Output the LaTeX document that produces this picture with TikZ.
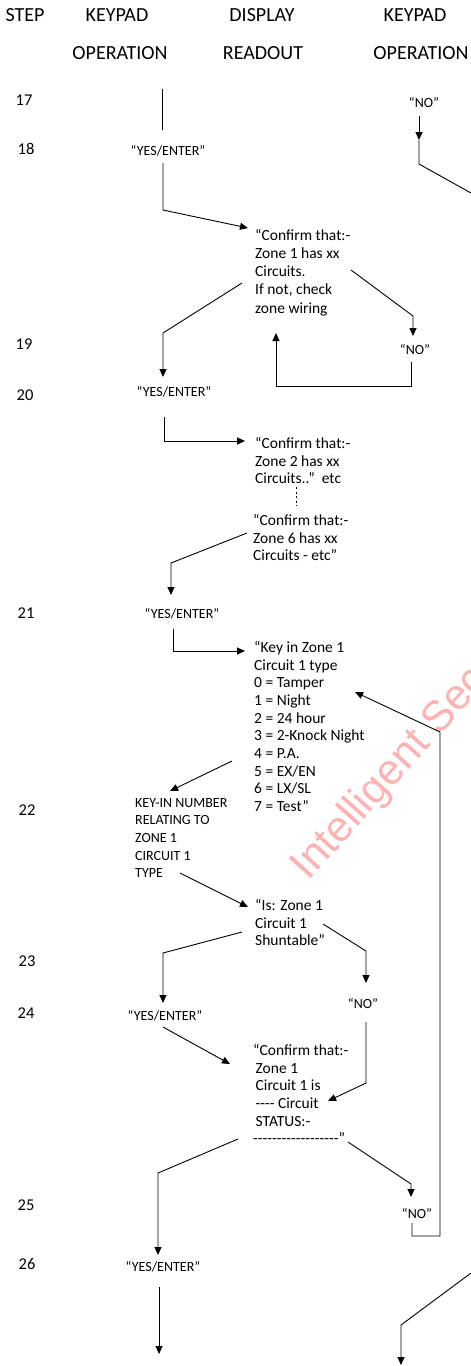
\documentclass[tikz,border=0pt]{standalone}
\usepackage{fontspec}
\setmainfont{Carlito}
\newfontfamily\wmfont{Liberation Sans}
\usetikzlibrary{arrows.meta}
\newcommand{\hy}{-\kern0pt}
\begin{document}
\begin{tikzpicture}[x=1pt,y=-1pt,
  hdr/.style={font=\fontsize{20}{24}\selectfont, inner sep=0pt},
  stepnum/.style={font=\fontsize{16.5}{19}\selectfont, inner sep=0pt},
  lbl/.style={font=\fontsize{14}{17.7}\selectfont, inner sep=0pt},
  capbox/.style={font=\fontsize{14}{17.7}\selectfont, inner sep=0pt, align=left, anchor=north west},
  txt/.style={font=\fontsize{15.5}{17.7}\selectfont, inner sep=0pt, align=left, anchor=north west},
  ln/.style={line width=0.9pt},
  arr/.style={ln, -{Triangle[length=8pt,width=7pt]}},
  wm/.style={font=\wmfont\fontsize{43}{45}\selectfont, text=red!30, inner sep=0pt}]
\useasboundingbox (0,0) rectangle (471,1366);
\clip (0,0) rectangle (471,1366);

% watermark
\node[wm, rotate=48, anchor=base west] (wm) at (308,882) {Intelligent Security};

% headers
\node[hdr] (hstep) at (25,15) {STEP};
\node[hdr] (hkp1) at (117,15) {KEYPAD};
\node[hdr] (hdisp) at (262,15) {DISPLAY};
\node[hdr] (hkp2) at (415,15) {KEYPAD};
\node[hdr] (hop1) at (120,53) {OPERATION};
\node[hdr] (hread) at (263,53) {READOUT};
\node[hdr] (hop2) at (421,53) {OPERATION};

% step numbers
\node[stepnum] (s17) at (24,100) {17};
\node[stepnum] (s18) at (26,149) {18};
\node[stepnum] (s19) at (24,344) {19};
\node[stepnum] (s20) at (25,395) {20};
\node[stepnum] (s21) at (26,613) {21};
\node[stepnum] (s22) at (27,810) {22};
\node[stepnum] (s23) at (27,961) {23};
\node[stepnum] (s24) at (26,1013) {24};
\node[stepnum] (s25) at (26,1205) {25};
\node[stepnum] (s26) at (27,1264) {26};

% keypad labels
\node[lbl] (ye1) at (168,151) {“YES/ENTER”};
\node[lbl] (no1) at (424,102) {“NO”};
\node[lbl] (ye2) at (174,392) {“YES/ENTER”};
\node[lbl] (no2) at (415,349) {“NO”};
\node[lbl] (ye3) at (182,614) {“YES/ENTER”};
\node[lbl] (no3) at (363,1003) {“NO”};
\node[lbl] (ye4) at (165,1016) {“YES/ENTER”};
\node[lbl] (no4) at (417,1213) {“NO”};
\node[lbl] (ye5) at (163,1267) {“YES/ENTER”};
\node[capbox] (kin) at (135,798) {KEY-IN NUMBER\\RELATING TO\\ZONE 1\\CIRCUIT 1\\TYPE};

% display texts
\node[txt, font=\fontsize{15.5}{18.2}\selectfont] (c1) at (255,229) {“Confirm that:-\\Zone 1 has xx\\Circuits.\\If not, check\\zone wiring};
\node[txt] (c2) at (255,437) {“Confirm that:-\\Zone 2 has xx\\Circuits..”\ \ etc};
\node[txt] (c6) at (253,514) {“Confirm that:-\\Zone 6 has xx\\Circuits - etc”};
\node[txt] (k1) at (254,641) {“Key in Zone 1\\Circuit 1 type\\0 = Tamper\\1 = Night\\2 = 24 hour\\3 = 2-Knock Night\\4 = P.A.\\5 = EX/EN\\6 = LX/SL\\7 = Test”};
\node[txt] (is1) at (255,899) {“Is: Zone 1\\Circuit 1\\Shuntable”};
\node[txt] (cs) at (253,1044) {“Confirm that:-\\\hspace*{2.5pt}Zone 1\\\hspace*{2.5pt}Circuit 1 is\\\hspace*{2.5pt}\hy\hy\hy\hy{} Circuit\\\hspace*{2.5pt}STATUS:-\\\hy\hy\hy\hy\hy\hy\hy\hy\hy\hy\hy\hy\hy\hy\hy\hy\hy\hy”};

% coordinates
\coordinate (a1s) at (162,89);   \coordinate (a1e) at (162,130);
\coordinate (a2s) at (163,163);  \coordinate (a2b) at (163,210);  \coordinate (a2e) at (248,228);
\coordinate (a3s) at (419,116);  \coordinate (a3m) at (419,140);  \coordinate (a3b) at (419,164); \coordinate (a3e) at (485,200.8);
\coordinate (a4s) at (242,283);  \coordinate (a4b) at (163,333);  \coordinate (a4e) at (163,377);
\coordinate (a5s) at (351,270);  \coordinate (a5b) at (413,316);  \coordinate (a5e) at (413,336);
\coordinate (a6s) at (411,362);  \coordinate (a6b) at (411,386);  \coordinate (a6c) at (276,386); \coordinate (a6e) at (276,333);
\coordinate (a7s) at (164,417);  \coordinate (a7b) at (164,441);  \coordinate (a7e) at (245,441);
\coordinate (d1) at (296,487);   \coordinate (d2) at (296,506);
\coordinate (a9s) at (247,533);  \coordinate (a9b) at (171,563);  \coordinate (a9e) at (171,595);
\coordinate (a10s) at (173,629); \coordinate (a10b) at (173,651); \coordinate (a10e) at (245,651);
\coordinate (a11s) at (232,761); \coordinate (a11e) at (170,791);
\coordinate (a12s) at (180,873); \coordinate (a12e) at (248,907);
\coordinate (a13s) at (242,932); \coordinate (a13b) at (163,953); \coordinate (a13e) at (163,1003);
\coordinate (a14s) at (323,924); \coordinate (a14b) at (366,951); \coordinate (a14e) at (366,983);
\coordinate (a15s) at (163,1027); \coordinate (a15e) at (230,1064);
\coordinate (a16s) at (366,1022); \coordinate (a16b) at (366,1083); \coordinate (a16e) at (328,1101);
\coordinate (a17s) at (238,1139); \coordinate (a17b) at (158,1173); \coordinate (a17e) at (158,1255);
\coordinate (a18s) at (348,1142); \coordinate (a18b) at (411,1184); \coordinate (a18e) at (411,1197);
\coordinate (a19s) at (412,1223); \coordinate (a19b) at (412,1236); \coordinate (a19c) at (440,1236); \coordinate (a19d) at (440,732); \coordinate (a19e) at (355,692);
\coordinate (a20s) at (159,1287); \coordinate (a20e) at (159,1354);
\coordinate (a21s) at (485,1262.6); \coordinate (a21b) at (401,1325); \coordinate (a21e) at (401,1365);

% connectors
\draw[ln] (a1s) -- (a1e);
\draw[arr] (a2s) -- (a2b) -- (a2e);
\draw[arr] (a3s) -- (a3m);
\draw[ln] (a3m) -- (a3b) -- (a3e);
\draw[arr] (a4s) -- (a4b) -- (a4e);
\draw[arr] (a5s) -- (a5b) -- (a5e);
\draw[arr] (a6s) -- (a6b) -- (a6c) -- (a6e);
\draw[arr] (a7s) -- (a7b) -- (a7e);
\draw[ln, dash pattern=on 2pt off 2.5pt] (d1) -- (d2);
\draw[arr] (a9s) -- (a9b) -- (a9e);
\draw[arr] (a10s) -- (a10b) -- (a10e);
\draw[arr] (a11s) -- (a11e);
\draw[arr] (a12s) -- (a12e);
\draw[arr] (a13s) -- (a13b) -- (a13e);
\draw[arr] (a14s) -- (a14b) -- (a14e);
\draw[arr] (a15s) -- (a15e);
\draw[arr] (a16s) -- (a16b) -- (a16e);
\draw[arr] (a17s) -- (a17b) -- (a17e);
\draw[arr] (a18s) -- (a18b) -- (a18e);
\draw[arr] (a19s) -- (a19b) -- (a19c) -- (a19d) -- (a19e);
\draw[arr] (a20s) -- (a20e);
\draw[arr] (a21s) -- (a21b) -- (a21e);
\end{tikzpicture}
\end{document}
